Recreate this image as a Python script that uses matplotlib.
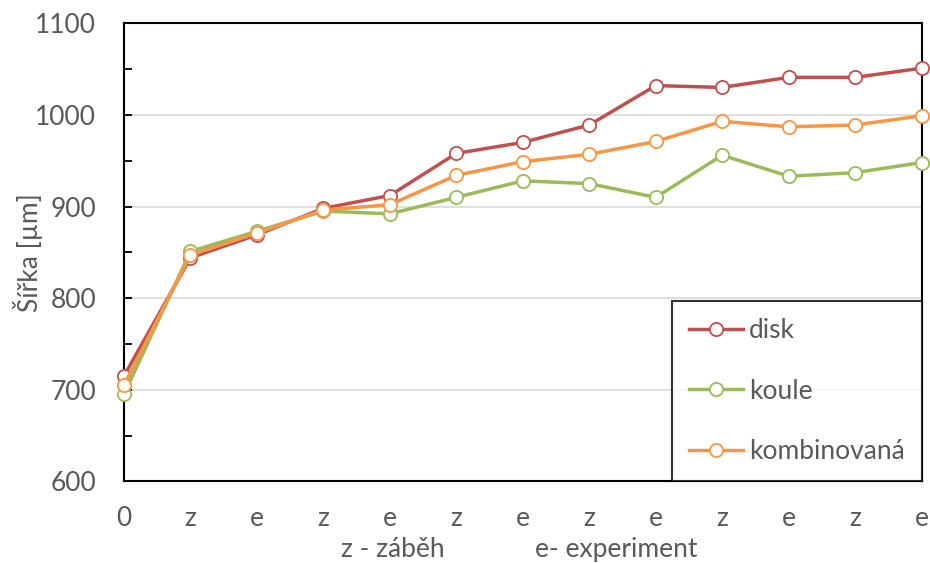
import matplotlib.pyplot as plt
from matplotlib.ticker import MultipleLocator

plt.rcParams['font.family'] = ['Lato', 'DejaVu Sans']

# x categories: start, then alternating run-in (z) and experiment (e)
labels = ['0', 'z', 'e', 'z', 'e', 'z', 'e', 'z', 'e', 'z', 'e', 'z', 'e']
disk = [715, 844, 869, 898, 912, 958, 970, 989, 1032, 1030, 1041, 1041, 1051]
koule = [695, 851, 873, 895, 892, 910, 928, 925, 910, 956, 933, 937, 948]
kombinovana = [705, 847, 871, 896, 902, 934, 949, 957, 971, 993, 987, 989, 999]

series = [("disk", disk, "#C0504D"),
          ("koule", koule, "#9BBB59"),
          ("kombinovaná", kombinovana, "#F79646")]

text_color = "#595959"
fs = 19

fig = plt.figure(figsize=(9.3, 5.63), dpi=100)
ax = fig.add_axes([0.1333, 0.1451, 0.8577, 0.8135])

x = list(range(len(labels)))
for name, vals, col in series:
    ax.plot(x, vals, color=col, linewidth=2.5, marker='o', markersize=9.5,
            markerfacecolor='white', markeredgecolor=col, markeredgewidth=1.3,
            label=name, zorder=3, clip_on=False)

ax.set_xlim(0, len(labels) - 1)
ax.set_ylim(600, 1100)
ax.set_xticks(x)
ax.set_xticklabels(labels)
ax.yaxis.set_major_locator(MultipleLocator(100))
ax.yaxis.set_minor_locator(MultipleLocator(50))
ax.grid(axis='y', which='major', color='#D9D9D9', linewidth=1.2, zorder=0)

for s in ax.spines.values():
    s.set_color('black')
    s.set_linewidth(1.5)
    s.set_zorder(2)

ax.tick_params(axis='y', which='both', direction='in', length=6, width=1.3,
               colors='black', labelcolor=text_color, labelsize=fs, pad=20)
ax.tick_params(axis='x', length=0, labelcolor=text_color, labelsize=fs, pad=18)

ax.set_ylabel("Šířka [µm]", fontsize=fs, color=text_color)
ax.yaxis.set_label_coords(-0.101, 0.5)

# two-part axis note under the tick labels
fig.text(393 / 930, 1 - 557 / 563, "z - záběh", fontsize=fs, color=text_color,
         ha='center', va='baseline')
fig.text(616 / 930, 1 - 557 / 563, "e- experiment", fontsize=fs, color=text_color,
         ha='center', va='baseline')

leg = ax.legend(loc='lower right', bbox_to_anchor=(1.0, 0.0), fontsize=fs,
                frameon=True, fancybox=False, edgecolor='black',
                labelspacing=1.35, handlelength=2.05, handletextpad=0.2,
                borderpad=0.65, borderaxespad=0)
leg.get_frame().set_linewidth(1.5)
leg.set_zorder(5)
for t in leg.get_texts():
    t.set_color(text_color)

fig.savefig("out.png", dpi=100)
